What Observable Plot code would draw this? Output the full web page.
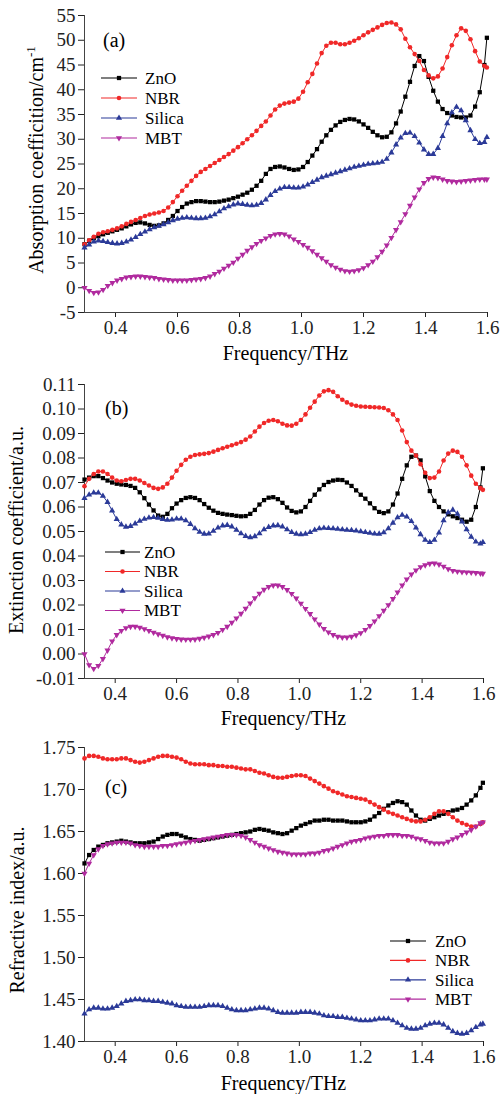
<!DOCTYPE html>
<html><head><meta charset="utf-8">
<script src="https://cdn.jsdelivr.net/npm/d3@7"></script>
<script src="https://cdn.jsdelivr.net/npm/@observablehq/plot@0.6"></script>
<style>
body{margin:0;background:#fff;}
#chart{width:503px;}
#chart svg{display:block;}
</style></head><body><div id="chart"></div>
<script>
const freq = [0.300,0.315,0.330,0.345,0.360,0.375,0.390,0.405,0.420,0.435,
0.450,0.465,0.480,0.495,0.510,0.525,0.540,0.555,0.570,0.585,
0.600,0.615,0.630,0.645,0.660,0.675,0.690,0.705,0.720,0.735,
0.750,0.765,0.780,0.795,0.810,0.825,0.840,0.855,0.870,0.885,
0.900,0.915,0.930,0.945,0.960,0.975,0.990,1.005,1.020,1.035,
1.050,1.065,1.080,1.095,1.110,1.125,1.140,1.155,1.170,1.185,
1.200,1.215,1.230,1.245,1.260,1.275,1.290,1.305,1.320,1.335,
1.350,1.365,1.380,1.395,1.410,1.425,1.440,1.455,1.470,1.485,
1.500,1.515,1.530,1.545,1.560,1.575,1.590,1.598];

const seriesNames = ["ZnO","NBR","Silica","MBT"];
const xTicks = [0.4,0.6,0.8,1.0,1.2,1.4,1.6];

// (a) Absorption coefficient / cm^-1
const absZnO = [8.8,9.5,10.0,10.4,10.8,11.1,11.4,11.7,12.0,12.4,
12.8,13.1,13.2,13.0,12.7,12.5,12.6,13.0,13.7,14.5,
15.5,16.3,17.0,17.3,17.5,17.5,17.4,17.3,17.3,17.4,
17.6,17.8,18.1,18.4,18.8,19.2,19.8,20.6,21.6,23.0,
24.0,24.4,24.5,24.3,24.0,23.8,23.9,24.4,25.4,26.7,
28.0,29.5,30.8,31.9,32.8,33.5,33.9,34.1,34.0,33.6,
33.0,32.3,31.5,30.8,30.4,30.5,31.4,33.2,35.6,38.6,
41.6,44.8,46.8,45.8,42.6,39.8,37.6,36.1,35.3,34.8,
34.5,34.4,34.4,34.8,36.6,39.5,45.0,50.5];
const absNBR = [8.8,9.6,10.3,10.9,11.2,11.4,11.7,12.0,12.4,12.9,
13.3,13.7,14.1,14.5,14.8,15.0,15.2,15.5,16.2,17.3,
18.5,19.6,20.6,21.6,22.6,23.4,24.0,24.6,25.2,25.8,
26.4,27.0,27.7,28.4,29.2,30.0,30.8,31.7,32.7,33.6,
34.8,36.0,36.8,37.2,37.4,37.6,38.2,39.6,41.5,43.2,
45.3,47.4,48.9,49.5,49.5,49.2,49.2,49.5,49.9,50.4,
51.0,51.6,52.1,52.6,53.1,53.5,53.6,53.2,52.2,50.3,
48.6,47.2,45.8,44.0,42.9,42.3,42.7,44.3,46.6,49.0,
51.0,52.4,51.9,50.2,47.8,45.7,44.8,44.5];
const absSilica = [8.1,8.7,9.3,9.5,9.4,9.2,9.0,8.9,9.0,9.3,
9.7,10.2,10.8,11.3,11.8,12.2,12.5,12.8,13.2,13.6,
13.9,14.1,14.2,14.1,14.0,14.0,14.1,14.4,14.8,15.4,
16.0,16.4,16.8,17.0,16.9,16.7,16.6,16.7,17.1,17.8,
18.7,19.5,20.0,20.3,20.3,20.2,20.2,20.4,20.8,21.3,
21.8,22.3,22.6,22.9,23.2,23.5,23.8,24.1,24.4,24.6,
24.8,25.0,25.1,25.2,25.4,26.0,27.3,28.9,30.3,31.2,
31.3,30.6,29.3,27.9,27.0,27.0,28.2,30.6,33.2,35.4,
36.5,35.8,33.8,31.8,30.0,29.2,29.4,30.4];
const absMBT = [0.0,-0.6,-1.0,-0.9,-0.4,0.4,1.0,1.5,1.8,2.1,
2.2,2.3,2.3,2.2,2.1,2.0,1.8,1.7,1.6,1.5,
1.5,1.5,1.5,1.6,1.7,1.8,2.0,2.3,2.8,3.3,
3.9,4.5,5.1,5.9,6.7,7.5,8.2,8.9,9.5,10.0,
10.5,10.8,10.9,10.8,10.4,9.8,9.3,8.7,8.1,7.4,
6.7,6.0,5.3,4.6,4.1,3.7,3.4,3.3,3.4,3.6,
4.0,4.6,5.3,6.2,7.3,8.6,10.1,11.7,13.3,14.9,
16.6,18.3,19.9,21.2,22.0,22.3,22.2,21.9,21.6,21.5,
21.4,21.5,21.6,21.7,21.8,21.9,21.9,21.9];

// (b) Extinction coefficient
const extZnO = [0.0712,0.0720,0.0726,0.0726,0.0718,0.0708,0.0700,0.0695,0.0692,0.0690,
0.0686,0.0678,0.0660,0.0636,0.0610,0.0586,0.0565,0.0560,0.0572,0.0595,
0.0614,0.0628,0.0637,0.0640,0.0637,0.0628,0.0612,0.0597,0.0585,0.0576,
0.0572,0.0569,0.0567,0.0564,0.0562,0.0563,0.0572,0.0588,0.0610,0.0628,
0.0638,0.0640,0.0632,0.0617,0.0598,0.0584,0.0578,0.0582,0.0600,0.0625,
0.0650,0.0672,0.0690,0.0702,0.0708,0.0711,0.0710,0.0700,0.0686,0.0668,
0.0650,0.0634,0.0615,0.0595,0.0580,0.0575,0.0582,0.0610,0.0655,0.0715,
0.0770,0.0805,0.0810,0.0790,0.0725,0.0665,0.0625,0.0600,0.0582,0.0570,
0.0562,0.0555,0.0548,0.0540,0.0548,0.0600,0.0680,0.0758];
const extNBR = [0.0685,0.0715,0.0735,0.0745,0.0745,0.0735,0.0720,0.0708,0.0705,0.0710,
0.0715,0.0715,0.0708,0.0698,0.0688,0.0678,0.0674,0.0680,0.0695,0.0720,
0.0748,0.0772,0.0793,0.0805,0.0812,0.0815,0.0817,0.0820,0.0826,0.0833,
0.0840,0.0846,0.0852,0.0858,0.0865,0.0875,0.0888,0.0908,0.0928,0.0943,
0.0952,0.0955,0.0950,0.0940,0.0933,0.0932,0.0940,0.0955,0.0978,0.1005,
0.1030,0.1055,0.1072,0.1077,0.1070,0.1052,0.1038,0.1027,0.1018,0.1013,
0.1010,0.1009,0.1008,0.1007,0.1006,0.1004,0.0995,0.0978,0.0955,0.0912,
0.0865,0.0830,0.0810,0.0775,0.0740,0.0718,0.0720,0.0745,0.0790,0.0818,
0.0830,0.0825,0.0805,0.0770,0.0728,0.0695,0.0677,0.0670];
const extSilica = [0.0636,0.0650,0.0658,0.0658,0.0645,0.0620,0.0585,0.0550,0.0528,0.0519,
0.0522,0.0532,0.0543,0.0551,0.0556,0.0558,0.0555,0.0550,0.0547,0.0548,
0.0552,0.0552,0.0545,0.0530,0.0512,0.0498,0.0490,0.0491,0.0502,0.0515,
0.0524,0.0526,0.0520,0.0506,0.0492,0.0481,0.0476,0.0480,0.0492,0.0508,
0.0518,0.0524,0.0525,0.0520,0.0508,0.0497,0.0490,0.0488,0.0490,0.0497,
0.0506,0.0512,0.0514,0.0513,0.0512,0.0510,0.0508,0.0506,0.0505,0.0503,
0.0500,0.0497,0.0494,0.0491,0.0490,0.0496,0.0512,0.0535,0.0557,0.0567,
0.0560,0.0542,0.0515,0.0488,0.0465,0.0456,0.0465,0.0495,0.0545,0.0578,
0.0588,0.0572,0.0540,0.0508,0.0478,0.0458,0.0450,0.0456];
const extMBT = [0.0000,-0.0045,-0.0060,-0.0048,-0.0020,0.0015,0.0052,0.0078,0.0095,0.0106,
0.0112,0.0112,0.0108,0.0102,0.0095,0.0088,0.0081,0.0075,0.0069,0.0065,
0.0062,0.0060,0.0059,0.0059,0.0060,0.0063,0.0067,0.0072,0.0078,0.0087,
0.0099,0.0112,0.0128,0.0146,0.0165,0.0186,0.0207,0.0228,0.0247,0.0263,
0.0274,0.0280,0.0280,0.0274,0.0262,0.0246,0.0227,0.0206,0.0185,0.0164,
0.0142,0.0121,0.0103,0.0089,0.0078,0.0071,0.0068,0.0068,0.0071,0.0077,
0.0086,0.0099,0.0115,0.0134,0.0155,0.0177,0.0200,0.0225,0.0252,0.0280,
0.0305,0.0325,0.0342,0.0355,0.0363,0.0369,0.0370,0.0366,0.0357,0.0347,
0.0340,0.0337,0.0335,0.0334,0.0333,0.0331,0.0329,0.0328];

// (c) Refractive index
const refZnO = [1.612,1.622,1.628,1.632,1.634,1.636,1.637,1.638,1.639,1.638,
1.637,1.636,1.636,1.636,1.637,1.638,1.641,1.644,1.646,1.647,
1.647,1.645,1.643,1.641,1.640,1.639,1.640,1.641,1.642,1.643,
1.644,1.645,1.646,1.647,1.648,1.649,1.650,1.652,1.653,1.652,
1.651,1.649,1.648,1.647,1.648,1.651,1.654,1.657,1.659,1.661,
1.663,1.663,1.664,1.664,1.663,1.663,1.663,1.662,1.661,1.661,
1.661,1.662,1.664,1.668,1.672,1.677,1.681,1.684,1.686,1.685,
1.682,1.675,1.669,1.664,1.663,1.665,1.667,1.669,1.671,1.673,
1.675,1.676,1.678,1.682,1.687,1.693,1.702,1.708];
const refNBR = [1.737,1.740,1.740,1.739,1.737,1.736,1.736,1.736,1.737,1.737,
1.735,1.733,1.732,1.733,1.735,1.737,1.739,1.740,1.740,1.739,
1.738,1.736,1.733,1.731,1.730,1.730,1.730,1.729,1.729,1.728,
1.728,1.727,1.727,1.726,1.725,1.724,1.724,1.722,1.720,1.719,
1.717,1.715,1.714,1.714,1.715,1.716,1.717,1.717,1.716,1.713,
1.710,1.707,1.704,1.701,1.698,1.696,1.694,1.692,1.691,1.690,
1.689,1.688,1.685,1.682,1.679,1.676,1.673,1.671,1.669,1.667,
1.665,1.663,1.662,1.662,1.664,1.667,1.671,1.674,1.674,1.671,
1.667,1.663,1.660,1.658,1.656,1.656,1.659,1.661];
const refSilica = [1.433,1.438,1.440,1.440,1.439,1.439,1.440,1.442,1.445,1.448,
1.449,1.450,1.450,1.449,1.449,1.448,1.448,1.447,1.446,1.445,
1.443,1.442,1.441,1.441,1.441,1.441,1.442,1.443,1.443,1.443,
1.442,1.440,1.438,1.437,1.437,1.437,1.438,1.439,1.440,1.440,
1.439,1.437,1.435,1.434,1.434,1.434,1.434,1.435,1.435,1.435,
1.434,1.433,1.431,1.430,1.430,1.429,1.429,1.428,1.427,1.426,
1.425,1.425,1.425,1.426,1.427,1.427,1.427,1.425,1.422,1.419,
1.416,1.415,1.415,1.416,1.419,1.421,1.422,1.422,1.420,1.416,
1.412,1.410,1.409,1.410,1.413,1.417,1.420,1.421];
const refMBT = [1.600,1.612,1.622,1.629,1.633,1.635,1.636,1.637,1.637,1.637,
1.636,1.634,1.633,1.632,1.632,1.632,1.632,1.633,1.633,1.634,
1.635,1.636,1.637,1.638,1.639,1.640,1.641,1.642,1.643,1.644,
1.645,1.646,1.646,1.646,1.645,1.643,1.640,1.637,1.634,1.632,
1.630,1.628,1.626,1.625,1.624,1.623,1.623,1.623,1.623,1.624,
1.624,1.625,1.627,1.628,1.630,1.632,1.634,1.636,1.638,1.639,
1.640,1.642,1.643,1.644,1.645,1.645,1.646,1.646,1.646,1.645,
1.645,1.644,1.642,1.641,1.639,1.637,1.636,1.636,1.636,1.638,
1.641,1.643,1.646,1.649,1.652,1.656,1.660,1.661];

const absTicks = [-5,0,5,10,15,20,25,30,35,40,45,50,55];
const extTicks = [-0.01,0,0.01,0.02,0.03,0.04,0.05,0.06,0.07,0.08,0.09,0.10,0.11];
const refTicks = [1.40,1.45,1.50,1.55,1.60,1.65,1.70,1.75];

const colors = ["#000000","#f02828","#2b3a98","#b02a9e"];
const radii = [2.4,2.3,2.3,2.3];
const triDown = {
  draw(context, size) {
    const y = -Math.sqrt(size / (Math.sqrt(3) * 3));
    context.moveTo(0, -y * 2);
    context.lineTo(Math.sqrt(3) * y, y);
    context.lineTo(-Math.sqrt(3) * y, y);
    context.closePath();
  }
};
const symbols = ["square","circle","triangle",triDown];
const d3Symbols = [d3.symbolSquare, d3.symbolCircle, d3.symbolTriangle, triDown];
const FONT = "'Liberation Serif','Times New Roman',serif";

function makePanel(cfg) {
  const marks = [
    Plot.ruleX([0.3], {stroke: "#444", strokeWidth: 1}),
    Plot.ruleY([cfg.domain[0]], {stroke: "#444", strokeWidth: 1})
  ];
  cfg.values.forEach((vals, i) => {
    const rows = freq.map((f, j) => ({f, v: vals[j]}));
    marks.push(Plot.line(rows, {x: "f", y: "v", stroke: colors[i], strokeWidth: 1}));
    marks.push(Plot.dot(rows, {x: "f", y: "v", fill: colors[i], stroke: "none", r: radii[i], symbol: symbols[i]}));
  });
  const svg = Plot.plot({
    width: 503, height: cfg.height,
    marginLeft: 84, marginRight: cfg.mr, marginTop: cfg.mt, marginBottom: cfg.mb,
    style: {fontFamily: FONT, fontSize: "19px", color: "#222", background: "#fff", overflow: "visible"},
    x: {domain: [0.3, 1.6], ticks: xTicks, tickFormat: d => d.toFixed(1), tickSize: 5, tickPadding: 3, label: null},
    y: {domain: cfg.domain, ticks: cfg.ticks, tickFormat: cfg.fmt, tickSize: 6, tickPadding: 3, label: null},
    marks
  });
  const g = d3.select(svg);
  const cx = (84 + 503 - cfg.mr) / 2;
  g.append("text").attr("x", cx).attr("y", 353).attr("dy", "0.35em")
    .attr("text-anchor", "middle").attr("font-size", 20).attr("fill", "#000")
    .text("Frequency/THz");
  const yt = g.append("text")
    .attr("transform", `translate(${cfg.ytx},${cfg.yty}) rotate(-90)`)
    .attr("text-anchor", "middle").attr("dy", "0.35em")
    .attr("font-size", 20).attr("fill", "#000");
  yt.append("tspan").text(cfg.ytitle);
  if (cfg.ysup) yt.append("tspan").attr("dy", "-0.6em").attr("font-size", 13).text(cfg.ysup);
  g.append("text").attr("x", cfg.tagX).attr("y", cfg.tagY).attr("dy", "0.35em")
    .attr("text-anchor", "start")
    .attr("font-size", 20).attr("fill", "#000").text(cfg.tag);
  const L = cfg.legend;
  seriesNames.forEach((name, i) => {
    const y = L.y0 + i * L.dy;
    g.append("line").attr("x1", L.x1).attr("x2", L.x2).attr("y1", y).attr("y2", y)
      .attr("stroke", colors[i]).attr("stroke-width", 1.2);
    g.append("path").attr("d", d3.symbol(d3Symbols[i], radii[i] * radii[i] * Math.PI)())
      .attr("transform", `translate(${(L.x1 + L.x2) / 2},${y})`).attr("fill", colors[i]);
    g.append("text").attr("x", L.tx).attr("y", y).attr("dy", "0.35em")
      .attr("text-anchor", "start")
      .attr("font-size", 17).attr("fill", "#000").text(name);
  });
  return svg;
}

const chart = document.getElementById("chart");
chart.append(makePanel({
  values: [absZnO, absNBR, absSilica, absMBT],
  domain: [-5, 55], ticks: absTicks, fmt: d => String(d),
  height: 365, mt: 15, mb: 53, mr: 16,
  ytitle: "Absorption coefficition/cm", ysup: "-1", ytx: 36, yty: 160,
  tag: "(a)", tagX: 103, tagY: 40,
  legend: {x1: 101, x2: 137, tx: 145, y0: 78, dy: 20}
}));
chart.append(makePanel({
  values: [extZnO, extNBR, extSilica, extMBT],
  domain: [-0.01, 0.11], ticks: extTicks, fmt: d => d.toFixed(2),
  height: 365, mt: 19, mb: 52, mr: 20,
  ytitle: "Extinction coefficient/a.u.", ysup: null, ytx: 16, yty: 165,
  tag: "(b)", tagX: 105, tagY: 43,
  legend: {x1: 105, x2: 140, tx: 144, y0: 187, dy: 19.5}
}));
chart.append(makePanel({
  values: [refZnO, refNBR, refSilica, refMBT],
  domain: [1.40, 1.75], ticks: refTicks, fmt: d => d.toFixed(2),
  height: 364, mt: 17, mb: 53, mr: 20,
  ytitle: "Refractive index/a.u.", ysup: null, ytx: 17, yty: 180,
  tag: "(c)", tagX: 105, tagY: 57,
  legend: {x1: 390, x2: 426, tx: 435, y0: 211, dy: 19.4}
}));
</script></body></html>
